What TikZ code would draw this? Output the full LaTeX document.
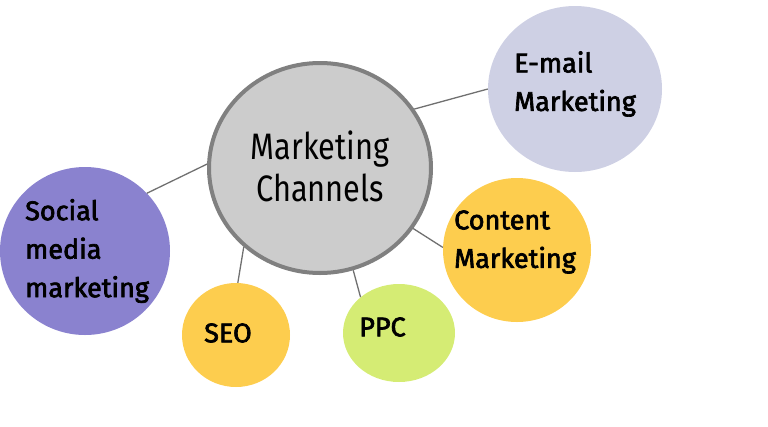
\documentclass[tikz,border=0pt]{standalone}
\usepackage{fontspec}
\setmainfont{Fira Sans}
\newfontfamily\comic{Fira Sans}[FakeBold=2.5]
\newfontfamily\hand{Fira Sans}
\usetikzlibrary{shapes.geometric}
\definecolor{cgray}{HTML}{CCCCCC}
\definecolor{cborder}{HTML}{808080}
\definecolor{cmail}{HTML}{CED0E4}
\definecolor{csocial}{HTML}{8A82CF}
\definecolor{corange}{HTML}{FDCD4E}
\definecolor{clime}{HTML}{D5EC74}
\definecolor{cline}{HTML}{707070}
\tikzset{
  bubble/.style={ellipse, inner sep=0pt, draw=none},
  lbl/.style={font=\comic\fontsize{27}{38.5}\selectfont, align=left, inner sep=0pt, anchor=west, text=black},
  link/.style={draw=cline, line width=1.3pt},
}
\begin{document}
\begin{tikzpicture}[x=1pt,y=-1pt]
\useasboundingbox (0,0) rectangle (768,426);
% bubbles
\node[bubble, fill=cmail, minimum width=174pt, minimum height=166pt] (em) at (575,89) {};
\node[bubble, fill=corange, minimum width=148pt, minimum height=144pt] (ct) at (517,250) {};
\node[bubble, fill=csocial, minimum width=170pt, minimum height=168pt] (so) at (85,251) {};
\node[bubble, fill=corange, minimum width=108pt, minimum height=104pt] (seo) at (236,335) {};
\node[bubble, fill=clime, minimum width=112pt, minimum height=98pt] (ppc) at (399,333) {};
\node[ellipse, fill=cgray, draw=cborder, line width=4pt, inner sep=0pt, minimum width=222pt, minimum height=210pt] (mc) at (320,168) {};
% connectors
\draw[link] (mc.32) -- (em.180);
\draw[link] (mc.-33) -- (ct.178);
\draw[link] (mc.178) -- (so.43);
\draw[link] (mc.-134) -- (seo.88);
\draw[link] (mc.-72) -- (ppc.137);
% labels
\node[font=\hand\fontsize{32}{42}\selectfont, align=center, inner sep=0pt, text=black] (mct) at (320,166) {\scalebox{0.96}[1.15]{Marketing}\\\scalebox{0.96}[1.15]{Channels}};
\node[lbl] (emt) at (514,84) {E-mail\\Marketing};
\node[lbl] (ctt) at (454,242) {Content\\Marketing};
\node[lbl] (sot) at (25,251) {Social\\media\\marketing};
\node[lbl] (seot) at (204,333) {SEO};
\node[lbl] (ppct) at (359,327) {PPC};
\end{tikzpicture}
\end{document}
